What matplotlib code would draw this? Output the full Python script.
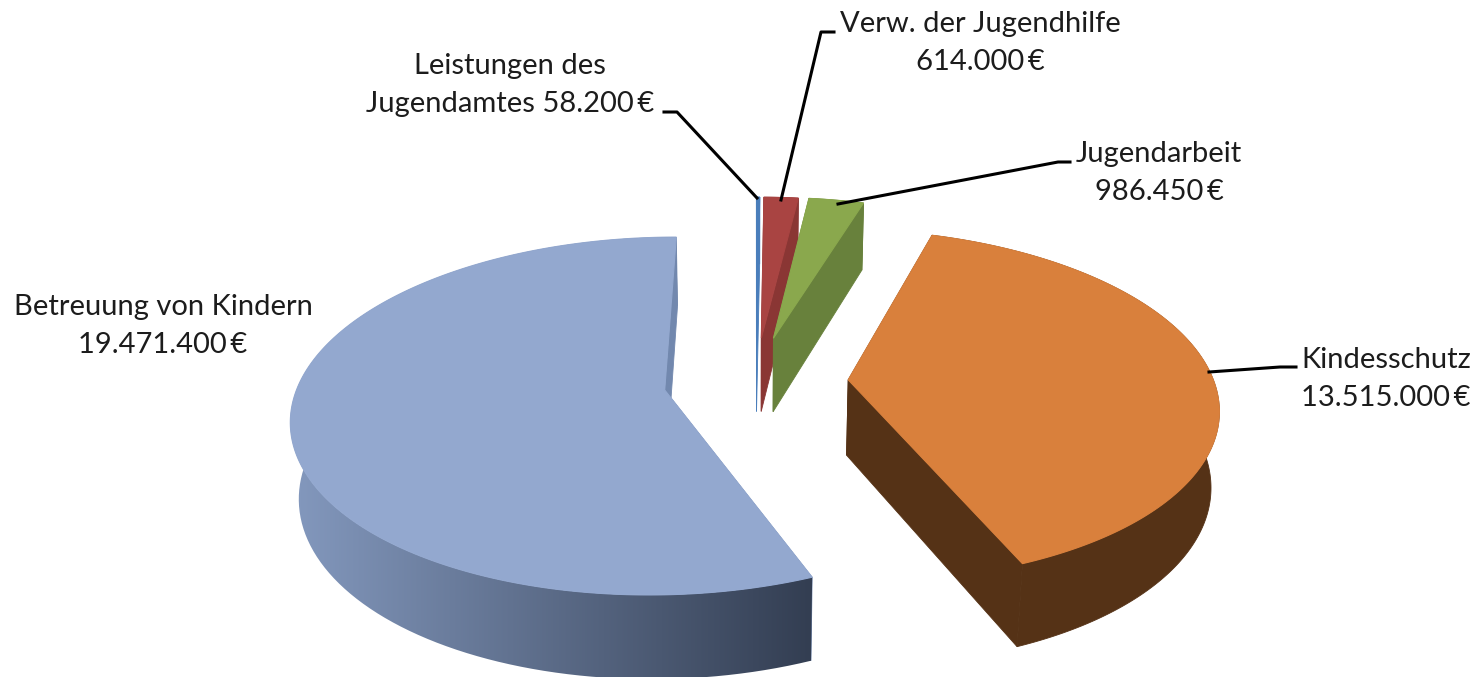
import numpy as np
import matplotlib
matplotlib.use('Agg')
import matplotlib.pyplot as plt
from matplotlib.colors import to_rgb
from matplotlib.path import Path
from matplotlib.patches import PathPatch

# Werte aus dem Diagramm
names = ['Leistungen des\nJugendamtes 58.200\u2009€', 'Verw. der Jugendhilfe\n614.000\u2009€', 'Jugendarbeit\n986.450\u2009€',
         'Kindesschutz\n13.515.000\u2009€', 'Betreuung von Kindern\n19.471.400\u2009€']
values = [58200, 614000, 986450, 13515000, 19471400]
top_colors = ['#4A7EBB', '#A94442', '#8AA84D', '#D9803C', '#93A8CF']
side_colors = ['#4A7EBB', '#8A3634', '#68813C', '#553216', '#7288AE']
explode = [0.288, 0.288, 0.29, 0.255, 0.249]
explode_turn = [0, -0.8, -2.3, -5.5, 5.9]

# Kameramodell
cx, cy = 756, 386
rad_x, rad_y = 367, 174
persp = 0.145
height = 77
persp_z = 0.018
start_angle = 0.0

def project(X, Y, Z=0.0):
    w = 1 + persp * Y + persp_z * Z
    return cx + rad_x * X / w, cy - rad_y * Y / w + height * Z / w

fig = plt.figure(figsize=(14.82, 6.77), dpi=100)
ax = fig.add_axes([0, 0, 1, 1])

edges = start_angle + np.concatenate([[0], np.cumsum(values)]) / np.sum(values) * 360

for i in range(len(values)):
    a0, a1 = np.radians(edges[i]), np.radians(edges[i + 1])
    mid = (a0 + a1) / 2 + np.radians(explode_turn[i])
    ox, oy = explode[i] * np.sin(mid), explode[i] * np.cos(mid)
    t = np.linspace(a0, a1, 240)
    X, Y = ox + np.sin(t), oy + np.cos(t)

    # Schnittflaechen: die erste liegt unter dem Mantel, die zweite darueber
    for a, z in ((a0, i * 4 + 1), (a1, i * 4 + 3)):
        ex, ey = ox + np.sin(a), oy + np.cos(a)
        face = [project(ox, oy), project(ex, ey), project(ex, ey, 1), project(ox, oy, 1)]
        ax.fill(*zip(*face), fc=side_colors[i], ec=side_colors[i], lw=0.6, zorder=z)

    # Mantelflaeche, beim grossen Stueck mit Verlauf
    px, py = project(X, Y)
    qx, qy = project(X, Y, 1)
    wall = np.column_stack([np.r_[px, qx[::-1]], np.r_[py, qy[::-1]]])
    if i == len(values) - 1:
        xs = np.linspace(285, 815, 256)
        pos = np.clip((xs - 300) / (812 - 300), 0, 1)[:, None]
        grad = np.array(to_rgb('#8297BC')) * (1 - pos) + np.array(to_rgb('#333E52')) * pos
        im = ax.imshow(grad[None, :, :], extent=[285, 815, 677, 0], aspect='auto', zorder=i * 4 + 2)
        im.set_clip_path(PathPatch(Path(wall), transform=ax.transData))
    else:
        ax.fill(wall[:, 0], wall[:, 1], fc=side_colors[i], ec=side_colors[i], lw=0.6, zorder=i * 4 + 2)

    # Deckflaeche
    tx, ty = project(np.r_[ox, X], np.r_[oy, Y])
    ax.fill(tx, ty, fc=top_colors[i], ec=top_colors[i], lw=0.8, zorder=i * 4 + 4)

ax.set_xlim(0, 1482)
ax.set_ylim(677, 0)
ax.axis('off')

# Beschriftungen
txt = dict(fontsize=21, family=['Lato', 'DejaVu Sans'], color='#1c1c1c', ha='center', va='center', linespacing=1.6, zorder=30)
ax.text(510, 85, names[0], **txt)
ax.text(980, 43, names[1], **txt)
ax.text(1159, 173, names[2], **txt)
ax.text(1386, 379, names[3], **txt)
ax.text(163, 326, names[4], **txt)

# Fuehrungslinien
ax.plot([664, 677, 757], [112, 112, 198], color='black', lw=2.2, zorder=31)
ax.plot([834, 821, 781], [32, 32, 200], color='black', lw=2.2, zorder=31)
ax.plot([1070, 1058, 838], [162, 162, 204], color='black', lw=2.2, zorder=31)
ax.plot([1296, 1280, 1209], [367, 367, 372], color='black', lw=2.2, zorder=31)

fig.savefig('out.png', dpi=100)
